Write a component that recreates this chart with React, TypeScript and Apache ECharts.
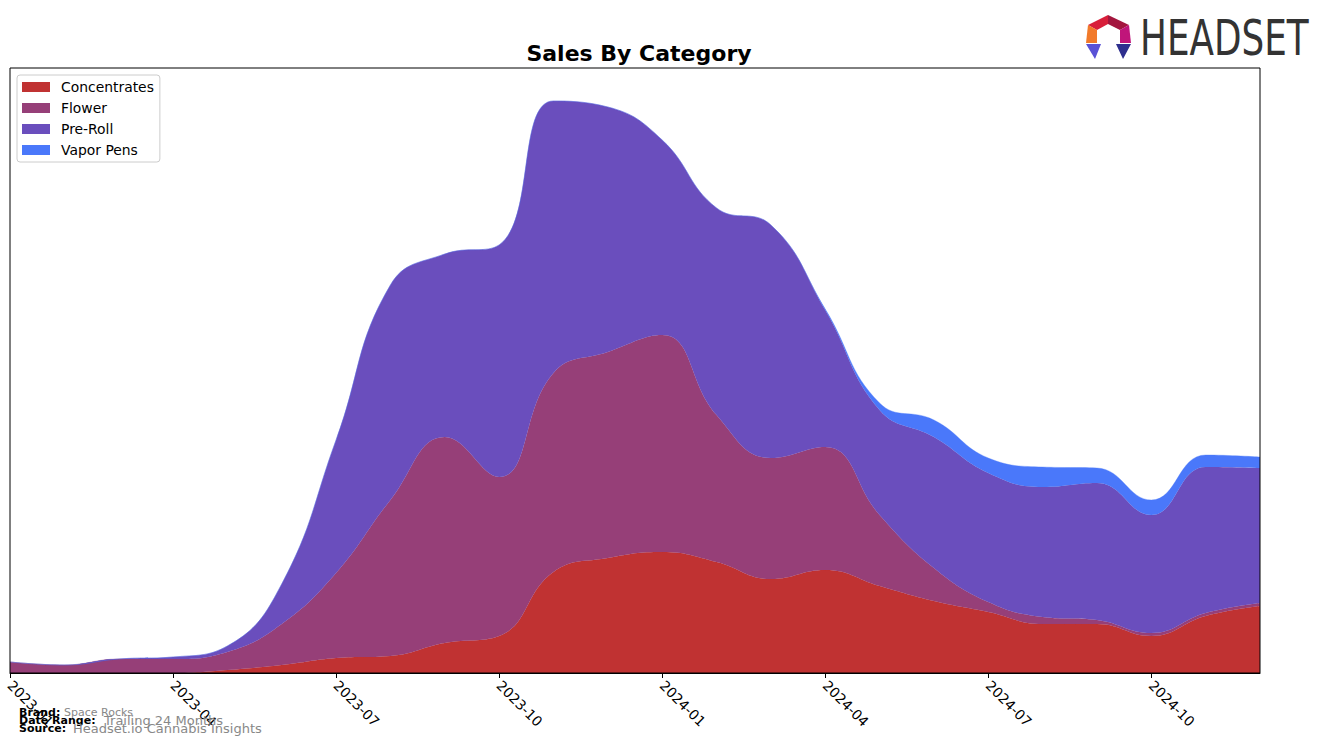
import React, { useEffect, useRef } from "react";
import * as echarts from "echarts";

const months = [
  "2023-01","2023-02","2023-03","2023-04","2023-05","2023-06","2023-07","2023-08",
  "2023-09","2023-10","2023-11","2023-12","2024-01","2024-02","2024-03","2024-04",
  "2024-05","2024-06","2024-07","2024-08","2024-09","2024-10","2024-11","2024-12",
];
const concentrates = [0,0,0,0,3,8,15,17,30,37,101,115,121,111,94,103,87,72,61,49,49,37,57,67];
const flower = [11,8,14,14,18,41,85,156,206,159,199,206,217,147,121,123,71,33,10,7,4,3,3,3];
const preRoll = [0,0,0,2,6,40,133,215,183,232,272,245,195,207,233,137,105,131,129,130,137,118,146,135];
const vaporPens = [0,0,0,0,0,0,0,0,0,0,0,0,0,0,0,1,7,17,15,20,15,15,12,11];

const seriesNames = ["Concentrates", "Flower", "Pre-Roll", "Vapor Pens"];
const seriesColors = ["#c03232", "#963f78", "#6a4ebd", "#4a78fa"];
const seriesData = [concentrates, flower, preRoll, vaporPens];

const FONT = "DejaVu Sans";

export default function App() {
  const ref = useRef<HTMLDivElement>(null);
  useEffect(() => {
    if (!ref.current) return;
    const chart = echarts.init(ref.current, null, { renderer: "svg" });
    const option: any = {
      animation: false,
      backgroundColor: "#ffffff",
      title: {
        text: "Sales By Category",
        left: 634,
        textAlign: "center",
        top: 37,
        textStyle: { fontFamily: FONT, fontSize: 22, fontWeight: "bold", color: "#000" },
      },
      legend: {
        orient: "vertical",
        left: 17,
        top: 75,
        padding: [5, 6, 5, 5],
        itemGap: 7,
        itemWidth: 28,
        itemHeight: 10,
        icon: "rect",
        borderColor: "#cccccc",
        borderWidth: 1,
        borderRadius: 3,
        backgroundColor: "#ffffff",
        data: seriesNames,
        textStyle: { fontFamily: FONT, fontSize: 13.9, color: "#000", lineHeight: 14, padding: [0, 0, 0, 6] },
      },
      grid: { left: 10, right: 64, top: 68, bottom: 72, containLabel: false },
      xAxis: {
        type: "category",
        data: months,
        boundaryGap: false,
        axisLine: { show: true, lineStyle: { color: "#000", width: 1 } },
        axisTick: { show: true, interval: 2, length: 5, lineStyle: { color: "#000" } },
        axisLabel: {
          show: true,
          interval: 2,
          rotate: -45,
          margin: 10,
          fontFamily: FONT,
          fontSize: 13.9,
          color: "#000",
        },
        splitLine: { show: false },
      },
      yAxis: {
        type: "value",
        min: 0,
        max: 605,
        show: false,
        splitLine: { show: false },
      },
      series: seriesData.map((d, i) => ({
        name: seriesNames[i],
        type: "line",
        stack: "total",
        data: d,
        smooth: 0.45,
        symbol: "none",
        showSymbol: false,
        color: seriesColors[i],
        lineStyle: { width: 0.6, color: seriesColors[i], opacity: 0.6 },
        areaStyle: { color: seriesColors[i], opacity: 1 },
        itemStyle: { color: seriesColors[i] },
        z: 2 + i,
      })),
      graphic: [
        {
          type: "rect",
          shape: { x: 10, y: 68, width: 1250, height: 605 },
          style: { fill: "none", stroke: "#000", lineWidth: 1 },
          z: 100,
          silent: true,
        },
        // logo
        { type: "polygon", shape: { points: [[1108, 15], [1108, 24], [1097, 30], [1088, 25]] }, style: { fill: "#d81f3a" }, z: 100 },
        { type: "polygon", shape: { points: [[1108, 15], [1129, 25], [1120, 30], [1108, 24]] }, style: { fill: "#a3163e" }, z: 100 },
        { type: "polygon", shape: { points: [[1088, 25], [1097, 30], [1097, 43], [1086, 43]] }, style: { fill: "#f27a2a" }, z: 100 },
        { type: "polygon", shape: { points: [[1129, 25], [1131, 43], [1120, 43], [1120, 30]] }, style: { fill: "#c0157a" }, z: 100 },
        { type: "polygon", shape: { points: [[1086, 44], [1101, 44], [1095, 59]] }, style: { fill: "#5a52d6" }, z: 100 },
        { type: "polygon", shape: { points: [[1116, 44], [1131, 44], [1123, 59]] }, style: { fill: "#2e2f8e" }, z: 100 },
        {
          type: "text",
          x: 1140,
          y: 38,
          scaleX: 0.73,
          z: 100,
          style: {
            text: "HEADSET",
            fontFamily: FONT,
            fontSize: 49,
            fill: "#333333",
            textVerticalAlign: "middle",
            verticalAlign: "middle",
          },
        },
        // footer
        { type: "text", x: 19, y: 712, z: 100, style: { text: "Brand:", fontFamily: FONT, fontSize: 11, fontWeight: "bold", fill: "#000", verticalAlign: "middle" } },
        { type: "text", x: 64, y: 712, z: 100, style: { text: "Space Rocks", fontFamily: FONT, fontSize: 11, fill: "#888888", verticalAlign: "middle" } },
        { type: "text", x: 19, y: 720, z: 100, style: { text: "Date Range:", fontFamily: FONT, fontSize: 11, fontWeight: "bold", fill: "#000", verticalAlign: "middle" } },
        { type: "text", x: 104, y: 720, z: 100, style: { text: "Trailing 24 Months", fontFamily: FONT, fontSize: 13, fill: "#888888", verticalAlign: "middle" } },
        { type: "text", x: 19, y: 728, z: 100, style: { text: "Source:", fontFamily: FONT, fontSize: 11, fontWeight: "bold", fill: "#000", verticalAlign: "middle" } },
        { type: "text", x: 73, y: 728, z: 100, style: { text: "Headset.io Cannabis Insights", fontFamily: FONT, fontSize: 13, fill: "#888888", verticalAlign: "middle" } },
      ],
    };
    chart.setOption(option);
    return () => chart.dispose();
  }, []);
  return (
    <div
      ref={ref}
      style={{ position: "absolute", left: 0, top: 0, width: 1324, height: 745 }}
    />
  );
}
